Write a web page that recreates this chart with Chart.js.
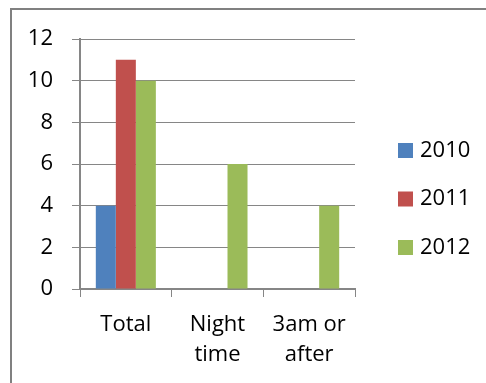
<!DOCTYPE html>
<html>
<head>
<meta charset="utf-8">
<script src="https://cdn.jsdelivr.net/npm/chart.js@4/dist/chart.umd.min.js"></script>
<style>
  html, body { margin: 0; padding: 0; background: #ffffff; }
  #wrap { position: relative; width: 486px; height: 383px; }
</style>
</head>
<body>
<div id="wrap"><canvas id="chart" width="486" height="383"></canvas></div>
<script>
// Categories and yearly counts
const categories = ['Total', ['Night', 'time'], ['3am or', 'after']];
const years = ['2010', '2011', '2012'];
const values2010 = [4, 0, 0];
const values2011 = [11, 0, 0];
const values2012 = [10, 6, 4];
const yTicks = [0, 2, 4, 6, 8, 10, 12];

const seriesColors = ['#4F81BD', '#C0504D', '#9BBB59'];
const gridGray = '#868686';
const fontFamily = '"Open Sans", "Liberation Sans", sans-serif';

// Frame lines along the top and left edges of the chart box
const framePlugin = {
  id: 'frame',
  beforeDraw(chart) {
    const ctx = chart.ctx;
    ctx.save();
    ctx.fillStyle = '#ffffff';
    ctx.fillRect(0, 0, chart.width, chart.height);
    ctx.strokeStyle = '#808080';
    ctx.lineWidth = 2;
    ctx.beginPath();
    ctx.moveTo(10, 9);
    ctx.lineTo(chart.width, 9);
    ctx.moveTo(11, 8);
    ctx.lineTo(11, chart.height);
    ctx.stroke();
    ctx.restore();
  }
};

// Legend on the right: colour square followed by the year
const sideLegend = {
  id: 'sideLegend',
  afterDraw(chart) {
    const ctx = chart.ctx;
    const area = chart.chartArea;
    const sets = chart.data.datasets;
    const step = 48.5;
    const midY = (area.top + area.bottom) / 2 + 35;
    const startY = midY - step * (sets.length - 1) / 2;
    const boxX = area.right + 43;
    ctx.save();
    ctx.font = '22px ' + fontFamily;
    ctx.textBaseline = 'middle';
    ctx.textAlign = 'left';
    sets.forEach((ds, i) => {
      const y = startY + i * step;
      ctx.fillStyle = ds.backgroundColor;
      ctx.fillRect(boxX, y - 7.5, 15, 15);
      ctx.fillStyle = '#000000';
      ctx.fillText(ds.label, boxX + 22, y);
    });
    ctx.restore();
  }
};

const seriesValues = [values2010, values2011, values2012];

new Chart(document.getElementById('chart'), {
  type: 'bar',
  data: {
    labels: categories,
    datasets: years.map((y, i) => ({
      label: y,
      data: seriesValues[i],
      backgroundColor: seriesColors[i],
      borderWidth: 0,
      categoryPercentage: 0.655,
      barPercentage: 1.0
    }))
  },
  options: {
    responsive: false,
    animation: false,
    devicePixelRatio: 1,
    layout: { padding: { top: 39, right: 131, bottom: 0, left: 0 } },
    plugins: {
      legend: { display: false },
      tooltip: { enabled: false }
    },
    scales: {
      x: {
        grid: {
          offset: true,
          drawOnChartArea: false,
          drawTicks: true,
          tickLength: 8,
          color: gridGray,
          lineWidth: 1
        },
        border: { display: true, color: gridGray, width: 2 },
        ticks: {
          color: '#000000',
          padding: 12,
          maxRotation: 0,
          autoSkip: false,
          font: { family: fontFamily, size: 22, lineHeight: 1.4 }
        },
        afterFit(scale) { scale.height = 94; }
      },
      y: {
        min: 0,
        max: 12,
        afterBuildTicks(scale) { scale.ticks = yTicks.map(v => ({ value: v })); },
        grid: {
          drawTicks: true,
          tickLength: 8,
          color: gridGray,
          lineWidth: 1
        },
        border: { display: true, color: gridGray, width: 2 },
        ticks: {
          color: '#000000',
          padding: 19,
          font: { family: fontFamily, size: 22 }
        },
        afterFit(scale) { scale.width = 80; }
      }
    }
  },
  plugins: [framePlugin, sideLegend]
});
</script>
</body>
</html>
